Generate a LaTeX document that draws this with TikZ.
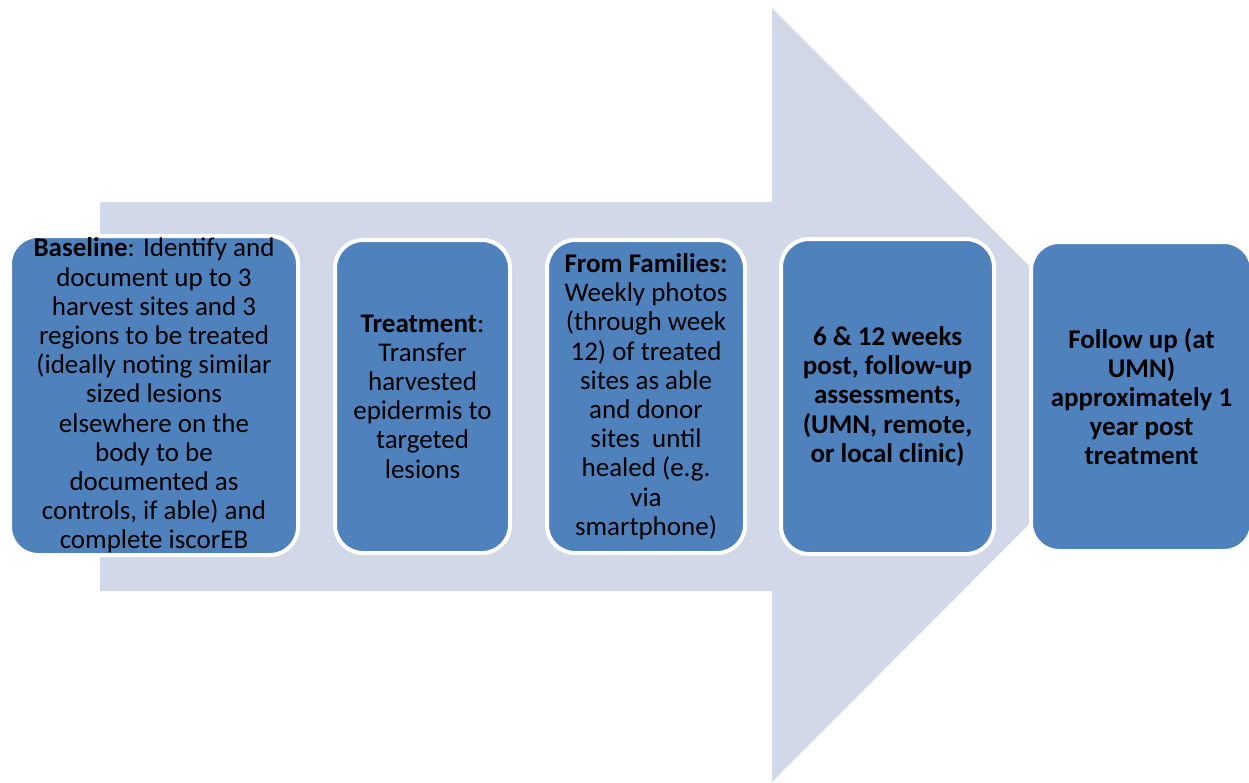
\documentclass[tikz,border=0pt]{standalone}
\usepackage{fontspec}
\setmainfont{Carlito}
\definecolor{shaftfill}{HTML}{D1D8E8}
\definecolor{stepfill}{HTML}{4F81BD}
\begin{document}
\begin{tikzpicture}[x=1pt,y=-1pt,
  stepbox/.style={draw=white, line width=4pt, fill=stepfill, rounded corners=28pt,
    align=center, inner sep=0pt, text=black,
    font=\fontsize{27}{29.2}\selectfont},
  boldstep/.style={stepbox, font=\fontsize{27}{29.2}\selectfont\bfseries}]
\useasboundingbox (0,0) rectangle (1249,782);
% background block arrow
\fill[shaftfill] (100,202) -- (772,202) -- (772,8) -- (1158,395) -- (772,782)
  -- (772,591) -- (100,591) -- cycle;
% process steps
\node[stepbox, minimum width=288pt, minimum height=319pt] (s1) at (154,395.5)
  {\textbf{Baseline}: Identify and\\document up to 3\\harvest sites and 3\\regions to be treated\\(ideally noting similar\\sized lesions\\elsewhere on the\\body to be\\documented as\\controls, if able) and\\complete iscorEB};
\node[stepbox, minimum width=175pt, minimum height=313pt] (s2) at (422.5,396.5)
  {\textbf{Treatment}:\\Transfer\\harvested\\epidermis to\\targeted\\lesions};
\node[stepbox, minimum width=198pt, minimum height=313pt] (s3) at (646,396.5)
  {\textbf{From Families:}\\Weekly photos\\(through week\\12) of treated\\sites as able\\and donor\\sites\ \ until\\healed (e.g.\\via\\smartphone)};
\node[boldstep, minimum width=213pt, minimum height=315pt] (s4) at (887.5,396.5)
  {6 \& 12 weeks\\post, follow-up\\assessments,\\(UMN, remote,\\or local clinic)};
\node[boldstep, minimum width=221pt, minimum height=309pt] (s5) at (1141.5,396.5)
  {Follow up (at\\UMN)\\approximately 1\\year post\\treatment};
\end{tikzpicture}
\end{document}
